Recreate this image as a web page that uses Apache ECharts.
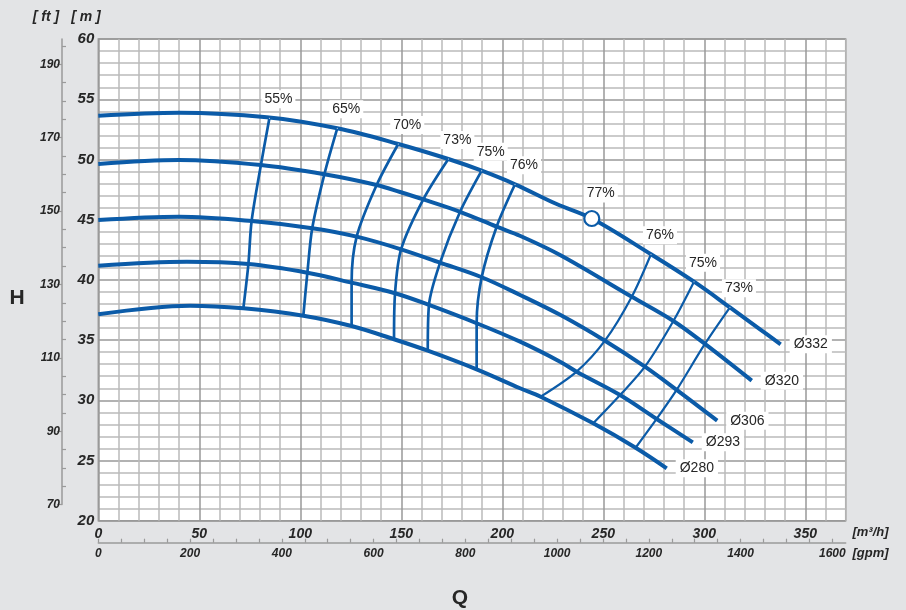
<!DOCTYPE html>
<html><head><meta charset="utf-8">
<script src="https://cdn.jsdelivr.net/npm/echarts@6/dist/echarts.min.js"></script>
<style>html,body{margin:0;padding:0;background:#e3e4e6}#c{width:906px;height:610px}</style>
</head><body><div id="c"></div>
<script>
// ---- tick labels ----
const qTicks = [0, 50, 100, 150, 200, 250, 300, 350];          // m3/h
const hTicks = [20, 25, 30, 35, 40, 45, 50, 55, 60];           // m
const ftTicks = [70, 90, 110, 130, 150, 170, 190];             // ft
const gpmTicks = [0, 200, 400, 600, 800, 1000, 1200, 1400, 1600]; // gpm

// ---- impeller curves (Q m3/h, H m) ----
const impellerNames = ['Ø332', 'Ø320', 'Ø306', 'Ø293', 'Ø280'];
const d332 = [[0,53.64],[40,53.89],[83.4,53.51],[118.3,52.59],[148.5,51.29],[173.3,50.04],[189.8,49.07],[206.3,47.94],[226.9,46.3],[244.3,45.1],[273.6,42.13],[294.9,39.85],[312.7,37.72],[327.6,35.9],[337.8,34.65]];
const d320 = [[0,49.63],[40,49.96],[80.5,49.54],[111.9,48.77],[137.8,47.88],[149.4,47.3],[160.9,46.69],[179.1,45.66],[197.2,44.42],[209,43.65],[228.6,42.07],[264.1,38.6],[284.7,36.59],[300.3,34.68],[323.5,31.63]];
const d306 = [[0,44.97],[40,45.25],[75.9,44.89],[105.9,44.29],[127.9,43.59],[149.9,42.54],[169.2,41.43],[189.8,40.22],[208.8,38.75],[228.6,37.1],[250.8,34.95],[270.6,32.79],[286.3,30.86],[306.4,28.31]];
const d293 = [[0,41.18],[43.8,41.51],[74.3,41.32],[103.5,40.6],[125.4,39.77],[146.9,38.89],[163.7,37.92],[187.3,36.4],[208.8,34.87],[228.6,33.21],[236.8,32.38],[258.3,30.44],[276.4,28.45],[294.3,26.51]];
const d280 = [[0,37.14],[45.4,37.86],[71.8,37.64],[101.5,37.03],[125.4,36.17],[146.4,35.07],[163.1,34.12],[187.3,32.57],[208.8,31.0],[219,30.3],[245,28.09],[266,26.06],[281.4,24.35]];

// ---- efficiency iso-lines (top to bottom) ----
const effNames = ['55%', '65%', '70%', '73%', '75%', '76%', '76%', '75%', '73%'];
const e55  = [[84.7,53.42],[80.5,49.54],[75.9,44.89],[74.3,41.32],[71.8,37.64]];
const e65  = [[118.3,52.59],[111.9,48.77],[105.9,44.29],[103.5,40.6],[101.5,37.03]];
const e70  = [[148.5,51.29],[137.8,47.88],[127.9,43.59],[125.4,39.77],[125.4,36.17]];
const e73  = [[173.3,50.04],[160.9,46.69],[149.9,42.54],[146.9,38.89],[146.4,35.07]];
const e75  = [[189.8,49.07],[179.1,45.66],[169.2,41.43],[163.7,37.92],[163.1,34.12]];
const e76  = [[206.3,47.94],[197.2,44.42],[189.8,40.22],[187.3,36.4],[187.3,32.57]];
const e76r = [[273.6,42.13],[264.1,38.6],[250.8,34.95],[236.8,32.38],[219,30.3]];
const e75r = [[294.9,39.85],[284.7,36.59],[270.6,32.79],[258.3,30.44],[245,28.09]];
const e73r = [[312.7,37.72],[300.3,34.68],[286.3,30.86],[276.4,28.45],[266,26.06]];

// ---- best efficiency point ----
const bepName = '77%';
const bepPoint = [244.3, 45.1];

// ---- conversions ----
const M_TO_FT = 3.28084;
const M3H_TO_GPM = 4.40287;
const Q_MAX = 370, H_MIN = 20, H_MAX = 60;

const BLUE = '#0b5ba8';
const FONT = '"Liberation Sans", Arial, sans-serif';
const TXT = '#262626';

const G = {left: 98.3, top: 39.1, width: 747.4, height: 481.6};
const pxPerFt = G.height / ((H_MAX - H_MIN) * M_TO_FT);
const ftMax = H_MAX * M_TO_FT;
const ftGridHeight = (ftMax - ftTicks[0]) * pxPerFt;

const ftMinor = [];
for (let v = ftTicks[0]; v < ftMax; v += 5) if (ftTicks.indexOf(v) < 0) ftMinor.push(v);
const gpmMinor = [];
for (let v = 0; v <= Q_MAX * M3H_TO_GPM; v += 50) gpmMinor.push(v);

const plain = v => String(v);
const axisFont = {fontFamily: FONT, fontWeight: 'bold', fontStyle: 'italic', color: TXT, formatter: plain};
const minorC = '#bababa', majorC = '#989898';

const curves = [d332, d320, d306, d293, d280];
const isoLines = [e55, e65, e70, e73, e75, e76, e76r, e75r, e73r];

const series = [];
curves.forEach((d, i) => {
  series.push({
    type: 'line', name: impellerNames[i], data: d, smooth: 0.35, showSymbol: false,
    xAxisIndex: 0, yAxisIndex: 0, z: 3,
    lineStyle: {color: BLUE, width: 4}, itemStyle: {color: BLUE},
    endLabel: {show: true, formatter: impellerNames[i], distance: 9, fontFamily: FONT, fontSize: 14,
      color: TXT, backgroundColor: '#fff', padding: [2, 4]}
  });
});
isoLines.forEach((d, i) => {
  series.push({
    type: 'line', data: d, smooth: 0.3, showSymbol: false, xAxisIndex: 0, yAxisIndex: 0, z: 2,
    lineStyle: {color: BLUE, width: i < 6 ? 2.7 : 2.2}
  });
});
const labelStyle = {show: true, formatter: p => p.name, position: 'inside', fontFamily: FONT, fontSize: 14,
  color: TXT, opacity: 1, backgroundColor: '#fff', padding: [2, 3]};
series.push({
  type: 'scatter', xAxisIndex: 0, yAxisIndex: 0, symbolSize: 1, z: 5,
  itemStyle: {color: '#fff', opacity: 1},
  label: Object.assign({}, labelStyle, {offset: [9, -19]}),
  data: isoLines.map((d, i) => ({name: effNames[i], value: d[0]}))
});
series.push({
  type: 'scatter', xAxisIndex: 0, yAxisIndex: 0, symbol: 'circle', symbolSize: 15, z: 6,
  itemStyle: {color: '#fff', borderColor: BLUE, borderWidth: 2.2, opacity: 1},
  label: Object.assign({}, labelStyle, {offset: [9, -25]}),
  data: [{name: bepName, value: bepPoint}]
});

const chart = echarts.init(document.getElementById('c'), null, {renderer: 'canvas'});
chart.setOption({
  backgroundColor: '#e3e4e6',
  animation: false,
  grid: [
    Object.assign({show: true, backgroundColor: '#fff', borderColor: '#9a9a9a', borderWidth: 1.5}, G),
    {left: 62, top: G.top, width: 1, height: ftGridHeight}
  ],
  xAxis: [
    {gridIndex: 0, type: 'value', min: 0, max: Q_MAX, interval: 10,
      axisLine: {show: false}, axisTick: {show: false},
      axisLabel: Object.assign({customValues: qTicks, fontSize: 14, margin: 6}, axisFont),
      splitLine: {show: true, lineStyle: {width: 1.5, color: [majorC, minorC, minorC, minorC, minorC]}}},
    {gridIndex: 0, type: 'value', position: 'bottom', offset: 22, min: 0, max: Q_MAX * M3H_TO_GPM,
      axisLine: {show: true, lineStyle: {color: '#9a9a9a', width: 1.5}},
      axisTick: {show: true, customValues: gpmMinor, inside: true, length: 4, lineStyle: {color: '#9a9a9a', width: 1.2}},
      axisLabel: Object.assign({customValues: gpmTicks, fontSize: 12, margin: 5}, axisFont),
      splitLine: {show: false}},
    {gridIndex: 1, type: 'value', show: false, min: 0, max: 1}
  ],
  yAxis: [
    {gridIndex: 0, type: 'value', min: H_MIN, max: H_MAX, interval: 1,
      axisLine: {show: false}, axisTick: {show: false},
      axisLabel: Object.assign({customValues: hTicks, fontSize: 15, margin: 4}, axisFont),
      splitLine: {show: true, lineStyle: {width: 1.5, color: [majorC, minorC, minorC, minorC, minorC]}}},
    {gridIndex: 1, type: 'value', position: 'left', min: ftTicks[0], max: ftMax,
      axisLine: {show: true, lineStyle: {color: '#9a9a9a', width: 1.5}},
      axisTick: {show: true, customValues: ftMinor, inside: true, length: 4, lineStyle: {color: '#9a9a9a', width: 1.2}},
      axisLabel: {show: false}, splitLine: {show: false}},
    {gridIndex: 1, type: 'value', position: 'left', min: ftTicks[0], max: ftMax,
      axisLine: {show: false},
      axisTick: {show: true, customValues: ftTicks, inside: false, length: 5, lineStyle: {color: '#9a9a9a', width: 1.2}},
      axisLabel: Object.assign({customValues: ftTicks, fontSize: 12, margin: 2}, axisFont),
      splitLine: {show: false}}
  ],
  graphic: [
    {type: 'text', x: 46, y: 17, style: {text: '[ ft ]', align: 'center', verticalAlign: 'middle', font: 'italic bold 14px ' + FONT, fill: TXT}},
    {type: 'text', x: 86, y: 17, style: {text: '[ m ]', align: 'center', verticalAlign: 'middle', font: 'italic bold 14px ' + FONT, fill: TXT}},
    {type: 'text', x: 17, y: 298, style: {text: 'H', align: 'center', verticalAlign: 'middle', font: 'bold 21px ' + FONT, fill: TXT}},
    {type: 'text', x: 460, y: 598, style: {text: 'Q', align: 'center', verticalAlign: 'middle', font: 'bold 21px ' + FONT, fill: TXT}},
    {type: 'text', x: 870.5, y: 532.7, style: {text: '[m³/h]', align: 'center', verticalAlign: 'middle', font: 'italic bold 13px ' + FONT, fill: TXT}},
    {type: 'text', x: 870.5, y: 553.3, style: {text: '[gpm]', align: 'center', verticalAlign: 'middle', font: 'italic bold 13px ' + FONT, fill: TXT}}
  ],
  series: series
});
</script>
</body></html>
